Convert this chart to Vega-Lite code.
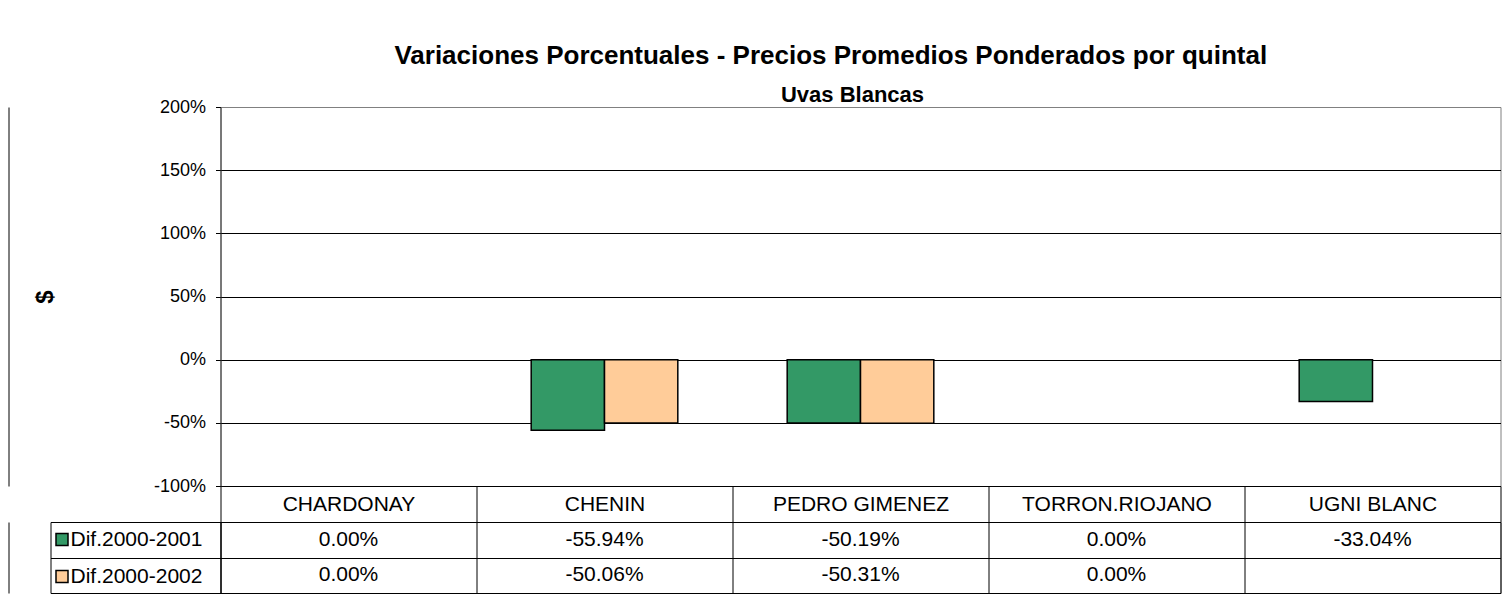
{
  "$schema": "https://vega.github.io/schema/vega-lite/v6.json",
  "padding": {"left": 7.5, "top": 42, "right": 5, "bottom": 0},
  "background": "white",
  "datasets": {
    "uvas": [
      {"variedad": "CHARDONAY", "serie": "Dif.2000-2001", "valor": 0},
      {"variedad": "CHARDONAY", "serie": "Dif.2000-2002", "valor": 0},
      {"variedad": "CHENIN", "serie": "Dif.2000-2001", "valor": -0.5594},
      {"variedad": "CHENIN", "serie": "Dif.2000-2002", "valor": -0.5006},
      {"variedad": "PEDRO GIMENEZ", "serie": "Dif.2000-2001", "valor": -0.5019},
      {"variedad": "PEDRO GIMENEZ", "serie": "Dif.2000-2002", "valor": -0.5031},
      {"variedad": "TORRON.RIOJANO", "serie": "Dif.2000-2001", "valor": 0},
      {"variedad": "TORRON.RIOJANO", "serie": "Dif.2000-2002", "valor": 0},
      {"variedad": "UGNI BLANC", "serie": "Dif.2000-2001", "valor": -0.3304},
      {"variedad": "UGNI BLANC", "serie": "Dif.2000-2002", "valor": null}
    ]
  },
  "title": {
    "text": "Variaciones Porcentuales - Precios Promedios Ponderados por quintal",
    "fontSize": 26, "fontWeight": "bold", "font": "Liberation Sans", "color": "black",
    "anchor": "middle", "baseline": "alphabetic", "offset": -6, "dx": 76
  },
  "spacing": 36,
  "bounds": "flush",
  "vconcat": [
    {
      "width": 1280,
      "height": 379,
      "title": {
        "text": "Uvas Blancas",
        "fontSize": 22, "fontWeight": "bold", "font": "Liberation Sans", "color": "black",
        "anchor": "middle", "baseline": "alphabetic", "offset": -26, "dx": -8
      },
      "data": {"name": "uvas"},
      "layer": [
        {
          "transform": [{"filter": "isValid(datum.valor) && datum.valor != 0"}],
          "mark": {"type": "bar", "stroke": "black", "strokeWidth": 1.5},
          "encoding": {
            "x": {
              "field": "variedad", "type": "nominal", "sort": null,
              "scale": {"domain": ["CHARDONAY", "CHENIN", "PEDRO GIMENEZ", "TORRON.RIOJANO", "UGNI BLANC"], "paddingInner": 0, "paddingOuter": 0},
              "axis": {
                "orient": "bottom", "title": null, "labelAngle": 0, "labelLimit": 0,
                "tickBand": "extent", "tickSize": 36, "tickColor": "black", "tickWidth": 1,
                "domain": true, "domainColor": "black",
                "labelFontSize": 21, "labelColor": "black", "labelBaseline": "middle", "labelPadding": -18,
                "labelFont": "Liberation Sans"
              }
            },
            "xOffset": {
              "field": "serie", "type": "nominal",
              "scale": {"domain": ["Dif.2000-2001", "Dif.2000-2002"], "paddingInner": 0, "paddingOuter": 0.746}
            },
            "y": {
              "field": "valor", "type": "quantitative",
              "scale": {"domain": [-1, 2], "nice": false, "zero": false},
              "axis": {
                "values": [-1, -0.5, 0, 0.5, 1, 1.5, 2],
                "format": ".0%",
                "grid": true,
                "gridColor": {"condition": {"test": "datum.value == 2", "value": "#808080"}, "value": "black"},
                "gridOpacity": 1,
                "gridWidth": 1,
                "tickSize": 5,
                "tickColor": "black",
                "domainColor": "#333333",
                "labelFontSize": 18,
                "labelColor": "black",
                "labelPadding": 10,
                "minExtent": 70,
                "maxExtent": 70,
                "title": "$",
                "titleFontSize": 24,
                "titleFontWeight": "bold",
                "titleColor": "black",
                "titlePadding": 93
              }
            },
            "color": {
              "field": "serie", "type": "nominal",
              "scale": {"domain": ["Dif.2000-2001", "Dif.2000-2002"], "range": ["#339966", "#FFCC99"]},
              "legend": {
                "orient": "none", "legendX": -169, "legendY": 422,
                "title": null, "direction": "vertical",
                "symbolType": "square", "symbolSize": 144,
                "symbolStrokeColor": "black", "symbolStrokeWidth": 1.5, "symbolOpacity": 1,
                "labelFontSize": 21, "labelColor": "black", "labelOffset": -2,
                "rowPadding": 15, "padding": 0
              }
            }
          }
        },
        {
          "mark": {"type": "point", "opacity": 0},
          "encoding": {
            "y": {
              "datum": 0, "type": "quantitative",
              "axis": {"orient": "left", "offset": 212, "domain": true, "domainColor": "black",
                       "ticks": false, "labels": false, "grid": false, "title": null}
            }
          }
        }
      ],
      "resolve": {"axis": {"y": "independent"}}
    },
    {
      "width": 1280,
      "height": 71,
      "data": {"name": "uvas"},
      "transform": [{"filter": "isValid(datum.valor)"}],
      "encoding": {
        "x": {
          "field": "variedad", "type": "nominal", "sort": null,
          "scale": {"domain": ["CHARDONAY", "CHENIN", "PEDRO GIMENEZ", "TORRON.RIOJANO", "UGNI BLANC"], "paddingInner": 0, "paddingOuter": 0},
          "axis": {"labels": false, "ticks": false, "domain": false, "grid": true, "tickBand": "extent", "gridColor": "black", "gridOpacity": 1, "title": null}
        },
        "y": {
          "field": "serie", "type": "nominal",
          "scale": {"domain": ["Dif.2000-2001", "Dif.2000-2002"], "paddingInner": 0, "paddingOuter": 0}
        }
      },
      "layer": [
        {
          "mark": {"type": "text", "fontSize": 21, "font": "Liberation Sans", "fill": "black", "align": "center", "baseline": "middle"},
          "encoding": {
            "y": {
              "field": "serie", "type": "nominal",
              "axis": {"orient": "left", "labels": false, "ticks": true, "tickBand": "extent", "tickSize": 170,
                       "tickColor": "black", "domain": true, "domainColor": "black",
                       "grid": true, "gridColor": "black", "gridOpacity": 1, "title": null}
            },
            "text": {"field": "valor", "type": "quantitative", "format": ".2%"}
          }
        },
        {
          "mark": {"type": "point", "opacity": 0},
          "encoding": {
            "y": {
              "field": "serie", "type": "nominal",
              "axis": {"orient": "left", "offset": 170, "labels": false, "ticks": false, "grid": false,
                       "domain": true, "domainColor": "black", "title": null}
            }
          }
        },
        {
          "mark": {"type": "point", "opacity": 0},
          "encoding": {
            "y": {
              "field": "serie", "type": "nominal",
              "axis": {"orient": "left", "offset": 212, "labels": false, "ticks": false, "grid": false,
                       "domain": true, "domainColor": "black", "title": null}
            }
          }
        }
      ],
      "resolve": {"axis": {"y": "independent"}}
    }
  ],
  "config": {
    "font": "Liberation Sans",
    "locale": {"number": {"decimal": ".", "thousands": ",", "grouping": [3], "currency": ["$", ""], "minus": "-"}},
    "view": {"stroke": "#808080", "strokeWidth": 1}
  }
}
